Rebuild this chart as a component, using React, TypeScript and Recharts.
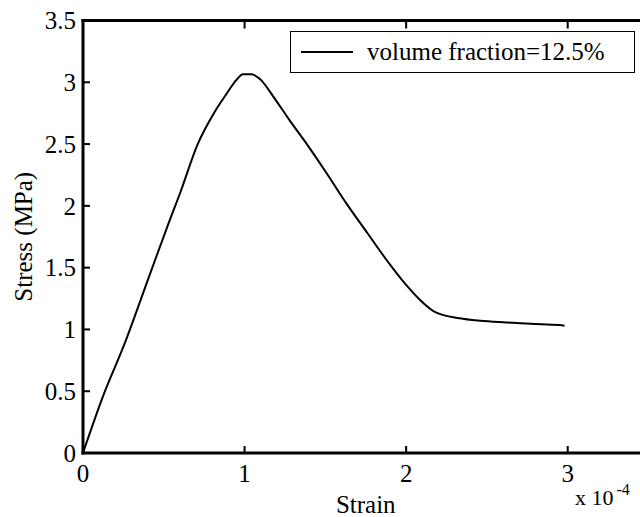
import { LineChart, Line, XAxis, YAxis, Legend } from "recharts";

// strain in units of 1e-4, stress in MPa
const strain = [0, 0.13, 0.25, 0.415, 0.53, 0.6, 0.71, 0.81, 0.89, 0.95, 0.99, 1.04, 1.1, 1.18, 1.28, 1.38, 1.51, 1.63, 1.76, 1.88, 2.0, 2.085, 2.18, 2.33, 2.46, 2.62, 2.77, 2.95, 2.98];
const stress = [0, 0.48, 0.86, 1.45, 1.86, 2.1, 2.5, 2.75, 2.91, 3.02, 3.065, 3.065, 3.02, 2.88, 2.69, 2.51, 2.26, 2.02, 1.78, 1.56, 1.36, 1.24, 1.14, 1.09, 1.07, 1.057, 1.046, 1.036, 1.03];

const xTicks = [0, 1, 2, 3];
const yTicks = [0, 0.5, 1, 1.5, 2, 2.5, 3, 3.5];
const seriesName = "volume fraction=12.5%";

const data = strain.map((s, i) => ({ strain: s, stress: stress[i] }));

const FONT = "'Liberation Serif', 'Times New Roman', serif";
const INK = "#000";
const TICK = 7; // inward tick length
const TW = 2; // tick thickness
const FW = 3; // frame thickness

// tick label + inward tick mark (matlab style), drawn as filled rects
const LeftTick = ({ x, y, payload }: any) => {
  const ax = x + 7;
  return (
    <g>
      <rect x={ax} y={y - TW / 2} width={TICK} height={TW} fill={INK} />
      <text x={x} y={y} dy="0.35em" textAnchor="end" fontFamily={FONT} fontSize={25} fill="#000">
        {payload.value}
      </text>
    </g>
  );
};

const BottomTick = ({ x, y, payload }: any) => {
  const ay = y - 12;
  return (
    <g>
      <rect x={x - TW / 2} y={ay - TICK} width={TW} height={TICK} fill={INK} />
      <text x={x} y={y} dy="0.68em" textAnchor="middle" fontFamily={FONT} fontSize={25} fill="#000">
        {payload.value}
      </text>
    </g>
  );
};

const TopTick = ({ x, y }: any) => (
  <rect x={x - TW / 2} y={y + 1} width={TW} height={TICK} fill={INK} />
);

// frame edges drawn from each axis' own box
const TopEdge = ({ viewBox }: any) => (
  <rect x={viewBox.x - FW / 2} y={viewBox.y + viewBox.height - FW / 2} width={viewBox.width + FW} height={FW} fill={INK} />
);

const StressLabel = ({ viewBox }: any) => {
  const cx = viewBox.x + 15;
  const cy = viewBox.y + viewBox.height / 2;
  const ax = viewBox.x + viewBox.width;
  return (
    <g>
      <rect x={ax - FW / 2} y={viewBox.y - FW / 2} width={FW} height={viewBox.height + FW} fill={INK} />
      <text
        x={cx}
        y={cy}
        transform={`rotate(-90, ${cx}, ${cy})`}
        textAnchor="middle"
        dominantBaseline="central"
        fontFamily={FONT}
        fontSize={25}
        fill="#000"
      >
        Stress (MPa)
      </text>
    </g>
  );
};

const StrainLabel = ({ viewBox }: any) => {
  const right = viewBox.x + viewBox.width;
  return (
    <g fontFamily={FONT} fill="#000">
      <rect x={viewBox.x - FW / 2} y={viewBox.y - FW / 2} width={viewBox.width + FW} height={FW} fill={INK} />
      <text x={viewBox.x + viewBox.width / 2} y={viewBox.y + 60} textAnchor="middle" fontSize={25}>
        Strain
      </text>
      <text x={right - 73.5} y={viewBox.y + 52} fontSize={22}>
        x 10
      </text>
      <text x={right - 32} y={viewBox.y + 42} fontSize={16}>
        -4
      </text>
    </g>
  );
};

const LegendBox = () => (
  <div
    style={{
      boxSizing: "border-box",
      width: 345,
      height: 42,
      border: "1px solid #000",
      background: "#fff",
      display: "flex",
      alignItems: "center",
      fontFamily: FONT,
      fontSize: 25,
      color: "#000",
    }}
  >
    <div style={{ width: 52, height: 0, borderTop: "2px solid #000", marginLeft: 10, marginRight: 14 }} />
    <span>{seriesName}</span>
  </div>
);

export default function App() {
  return (
    <div style={{ position: "fixed", left: 8, top: 8, width: 632, height: 509, overflow: "hidden", background: "#fff" }}>
      <LineChart width={650} height={509} data={data} margin={{ top: 11.5, right: 9.5, left: 0, bottom: 0 }}>
        <XAxis
          xAxisId="top"
          orientation="top"
          type="number"
          dataKey="strain"
          domain={[0, 3.5]}
          ticks={xTicks}
          height={1}
          tickSize={0}
          tickMargin={0}
          tickLine={false}
          axisLine={false}
          tick={<TopTick />}
          label={<TopEdge />}
        />
        <XAxis
          xAxisId="bottom"
          type="number"
          dataKey="strain"
          domain={[0, 3.5]}
          ticks={xTicks}
          height={64}
          tickSize={0}
          tickMargin={12}
          tickLine={false}
          axisLine={false}
          tick={<BottomTick />}
          label={<StrainLabel />}
        />
        <YAxis
          type="number"
          domain={[0, 3.5]}
          ticks={yTicks}
          width={75}
          tickSize={0}
          tickMargin={7}
          tickLine={false}
          axisLine={false}
          tick={<LeftTick />}
          label={<StressLabel />}
        />
        <Legend
          layout="horizontal"
          verticalAlign="middle"
          align="center"
          content={<LegendBox />}
          wrapperStyle={{ top: 23, left: 282, width: 345, height: 42 }}
        />
        <Line
          xAxisId="bottom"
          type="monotone"
          dataKey="stress"
          name={seriesName}
          stroke="#000"
          strokeWidth={2}
          dot={false}
          isAnimationActive={false}
        />
      </LineChart>
    </div>
  );
}
